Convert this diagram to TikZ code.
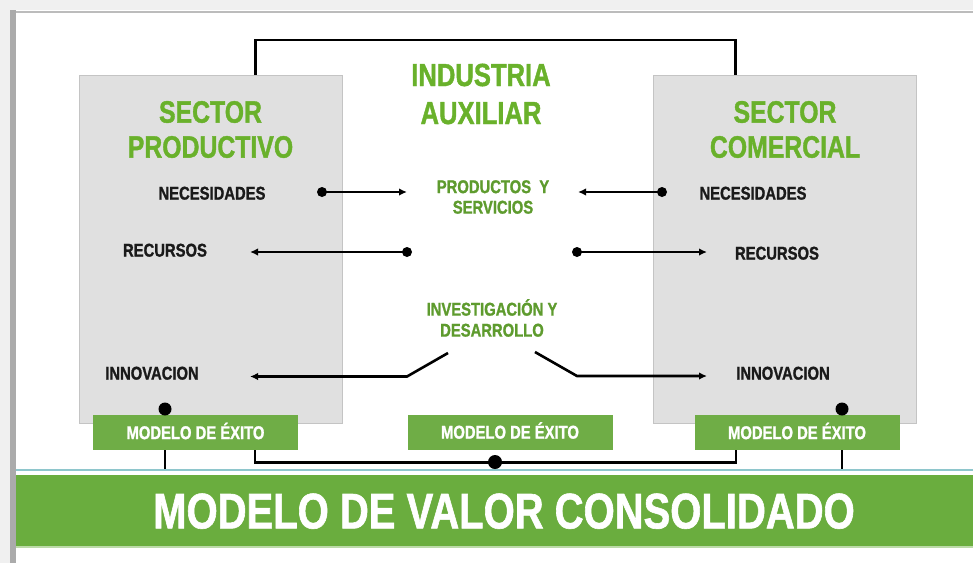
\documentclass[tikz,border=0pt]{standalone}
\usepackage{fontspec}
\setmainfont{Liberation Sans}[FakeStretch=0.8, BoldFeatures={FakeBold=1.2}]
\usetikzlibrary{arrows.meta}
\definecolor{headgreen}{HTML}{69B12B}
\definecolor{labgreen}{HTML}{5E9B2E}
\definecolor{boxgreen}{HTML}{6FAD46}
\definecolor{bargreen}{HTML}{6AAD3E}
\definecolor{panelgray}{HTML}{E0E0E0}
\definecolor{panelline}{HTML}{C4C4C4}
\definecolor{framegray}{HTML}{ABABAB}
\definecolor{framelight}{HTML}{F0F0F0}
\definecolor{tealline}{HTML}{8EC6CC}
\definecolor{inkgray}{HTML}{1A1A1A}
\pgfdeclarelayer{bg}
\pgfsetlayers{bg,main}
\begin{document}
\begin{tikzpicture}[x=1pt,y=-1pt,
 panel/.style={draw=panelline, line width=0.8pt, fill=panelgray, anchor=north west, inner sep=0pt},
 heading/.style={text=headgreen, font=\bfseries\fontsize{31}{35}\selectfont, align=center, inner sep=0pt},
 lbl/.style={text=inkgray, font=\bfseries\fontsize{18.5}{21}\selectfont, inner sep=0pt, text height=13.2pt, text depth=0pt},
 sublabel/.style={text=labgreen, font=\bfseries\fontsize{18.5}{20.5}\selectfont, align=center, inner sep=0pt},
 modelbox/.style={fill=boxgreen, text=white, font=\bfseries\fontsize{18.5}{20}\selectfont, minimum width=205pt, minimum height=35pt, text height=13.2pt, text depth=0pt, inner sep=0pt},
 dot/.style={circle, fill=black, inner sep=0pt, minimum size=10pt},
 bigdot/.style={circle, fill=black, inner sep=0pt, minimum size=13pt},
 conn/.style={line width=2.8pt, black},
 arr/.style={line width=2.6pt, black, -{Latex[length=8pt,width=7.5pt]}},
]
\useasboundingbox (0,0) rectangle (973,563);
% frame
\fill[framelight] (0,0) rectangle (973,10);
\fill[framelight] (0,0) rectangle (10,563);
\fill[framegray!80] (10,10.5) rectangle (973,13);
\fill[framegray] (10,10) rectangle (16,563);

% bottom bar
\fill[tealline] (16,468.5) rectangle (973,470.5);
\node[fill=bargreen, anchor=north west, minimum width=957pt, minimum height=71pt, inner sep=0pt] (valor) at (16,475) {};
\fill[bargreen!45] (16,546) rectangle (973,548);
\node[text=white, font=\bfseries\fontsize{50}{55}\selectfont, inner sep=0pt, text height=35.8pt, text depth=0pt] (valortxt) at (504,510.5) {MODELO DE VALOR CONSOLIDADO};

% panels
\node[panel, minimum width=263pt, minimum height=348pt] (prod) at (79,75) {};
\node[panel, minimum width=263pt, minimum height=348pt] (com) at (653,75) {};

% headings
\node[heading] (hprod) at (210.5,129.5) {SECTOR\\PRODUCTIVO};
\node[heading] (hcom) at (785,129.5) {SECTOR\\COMERCIAL};
\node[heading, font=\bfseries\fontsize{32}{38}\selectfont] (hind) at (481,94) {INDUSTRIA\\AUXILIAR};

% labels
\node[lbl] (necL) at (212,193) {NECESIDADES};
\node[lbl] (recL) at (165,250) {RECURSOS};
\node[lbl] (innL) at (152,373) {INNOVACION};
\node[lbl] (necR) at (753,193) {NECESIDADES};
\node[lbl] (recR) at (777,253) {RECURSOS};
\node[lbl] (innR) at (783,373) {INNOVACION};
\node[sublabel] (prodserv) at (493,197) {PRODUCTOS\ \ Y\\SERVICIOS};
\node[sublabel, font=\bfseries\fontsize{18.5}{21}\selectfont] (invdes) at (492,318) {INVESTIGACIÓN Y\\DESARROLLO};

% model boxes
\node[modelbox] (mL) at (195.5,432.5) {MODELO DE ÉXITO};
\node[modelbox] (mM) at (510,432) {MODELO DE ÉXITO};
\node[modelbox] (mR) at (797,432.5) {MODELO DE ÉXITO};

% dots
\node[dot] (dNL) at (322,192) {};
\node[dot] (dNR) at (662,192) {};
\node[dot] (dRL) at (407,252) {};
\node[dot] (dRR) at (577,252) {};
\node[bigdot] (bdL) at (165,409) {};
\node[bigdot] (bdR) at (842,409) {};
\node[bigdot, minimum size=14pt] (bdM) at (495,462) {};

% free ends
\coordinate (tNL) at (407,192);
\coordinate (tNR) at (578,192);
\coordinate (tRL) at (250,252);
\coordinate (tRR) at (707,252);
\coordinate (cIL1) at (448,353);
\coordinate (cIL2) at (407,376.5);
\coordinate (tIL) at (250,376.5);
\coordinate (cIR1) at (535,352);
\coordinate (cIR2) at (577,376);
\coordinate (tIR) at (707,376);

% arrows
\draw[arr] (dNL.center) -- (tNL);
\draw[arr] (dNR.center) -- (tNR);
\draw[arr] (dRL.center) -- (tRL);
\draw[arr] (dRR.center) -- (tRR);
\draw[arr] (cIL1) -- (cIL2) -- (tIL);
\draw[arr] (cIR1) -- (cIR2) -- (tIR);

% connectors behind
\begin{pgfonlayer}{bg}
\draw[conn] ([xshift=44.5pt]prod.north) -- ++(0,-35) -| ([xshift=-49.5pt]com.north);
\draw[conn] ([xshift=59.5pt]mL.south) -- ++(0,12) -| ([xshift=-61pt]mR.south);
\draw[conn] (bdL.center) -- (bdL.center |- 0,469);
\draw[conn] (bdR.center) -- (bdR.center |- 0,469);
\end{pgfonlayer}
\end{tikzpicture}
\end{document}
